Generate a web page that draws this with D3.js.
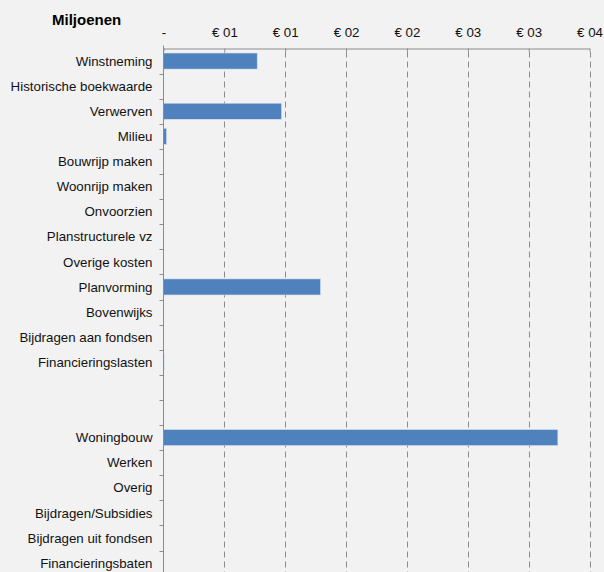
<!doctype html>
<html lang="nl">
<head>
<meta charset="utf-8">
<title>Miljoenen</title>
<script src="https://d3js.org/d3.v7.min.js"></script>
<style>
  body { margin: 0; background: #f2f2f2; font-family: "Liberation Sans", Arial, sans-serif; }
  svg { display: block; }
  .cat text { font-size: 13.3px; fill: #111; }
  .top text { font-size: 13.3px; fill: #111; }
  .grid line { stroke: #8c8c8c; stroke-dasharray: 6,4; }
</style>
</head>
<body>
<script>
  // data
  const categories = ["Winstneming", "Historische boekwaarde", "Verwerven", "Milieu",
      "Bouwrijp maken", "Woonrijp maken", "Onvoorzien", "Planstructurele vz",
      "Overige kosten", "Planvorming", "Bovenwijks", "Bijdragen aan fondsen",
      "Financieringslasten", " ", "  ", "Woningbouw", "Werken", "Overig",
      "Bijdragen/Subsidies", "Bijdragen uit fondsen", "Financieringsbaten"];
  const values = [7.7, 0, 9.7, 0.25, 0, 0, 0, 0, 0, 12.9, 0, 0, 0.05, 0, 0,
      32.4, 0, 0, 0, 0, 0];
  const tickValues = [0, 5, 10, 15, 20, 25, 30, 35];
  const tickLabels = ["-", "€ 01", "€ 01", "€ 02", "€ 02", "€ 03", "€ 03", "€ 04"];

  const width = 604, height = 572;
  const plotLeft = 163.5, plotRight = 589.5, plotTop = 48.5;
  const rowH = 25.1;

  const svg = d3.select('body').append('svg')
      .attr('width', width)
      .attr('height', height);

  svg.append('rect').attr('width', width).attr('height', height).attr('fill', '#f2f2f2');

  const x = d3.scaleLinear().domain([0, 35]).range([plotLeft, plotRight]);
  const y = d3.scaleBand()
      .domain(categories)
      .range([plotTop, plotTop + rowH * categories.length])
      .paddingInner(0.36)
      .paddingOuter(0.18);

  // dashed gridlines
  svg.append('g').attr('class', 'grid')
    .selectAll('line')
    .data(tickValues.slice(1))
    .join('line')
      .attr('x1', d => Math.round(x(d)) + 0.5)
      .attr('x2', d => Math.round(x(d)) + 0.5)
      .attr('y1', plotTop + 3)
      .attr('y2', height);

  // bars
  svg.append('g')
    .selectAll('rect')
    .data(values)
    .join('rect')
      .attr('x', x(0))
      .attr('y', (d, i) => y(categories[i]))
      .attr('width', d => x(d) - x(0))
      .attr('height', y.bandwidth())
      .attr('fill', '#4f81bd')
      .attr('stroke', d => d > 0 ? '#d6e0ee' : 'none')
      .attr('stroke-width', 0.6);

  // top axis
  const xAxis = d3.axisTop(x)
      .tickValues(tickValues)
      .tickFormat((d, i) => tickLabels[i])
      .tickSizeInner(3)
      .tickSizeOuter(0)
      .tickPadding(9);
  const gx = svg.append('g').attr('class', 'top')
      .attr('transform', `translate(0,${plotTop})`)
      .call(xAxis);
  gx.attr('font-family', null).attr('font-size', null);
  gx.select('.domain').attr('stroke', '#8c8c8c');
  gx.selectAll('.tick line').attr('stroke', '#8c8c8c').attr('y2', 3);

  // category axis (ticks between rows)
  svg.append('line')
      .attr('x1', plotLeft).attr('x2', plotLeft)
      .attr('y1', plotTop - 3).attr('y2', height)
      .attr('stroke', '#8c8c8c');

  svg.append('g')
    .selectAll('line')
    .data(categories)
    .join('line')
      .attr('x1', plotLeft - 4).attr('x2', plotLeft)
      .attr('y1', (d, i) => Math.round(plotTop + rowH * (i + 1)) + 0.5)
      .attr('y2', (d, i) => Math.round(plotTop + rowH * (i + 1)) + 0.5)
      .attr('stroke', '#8c8c8c');

  const cat = svg.append('g').attr('class', 'cat');
  cat.selectAll('text')
    .data(categories)
    .join('text')
      .attr('x', plotLeft - 11)
      .attr('y', d => y(d) + y.bandwidth() / 2)
      .attr('dy', '0.35em')
      .attr('text-anchor', 'end')
      .text(d => d.trim());

  svg.append('text')
      .attr('x', 52)
      .attr('y', 25)
      .attr('font-size', '15px')
      .attr('font-weight', 'bold')
      .attr('fill', '#000')
      .text('Miljoenen');
</script>
</body>
</html>
